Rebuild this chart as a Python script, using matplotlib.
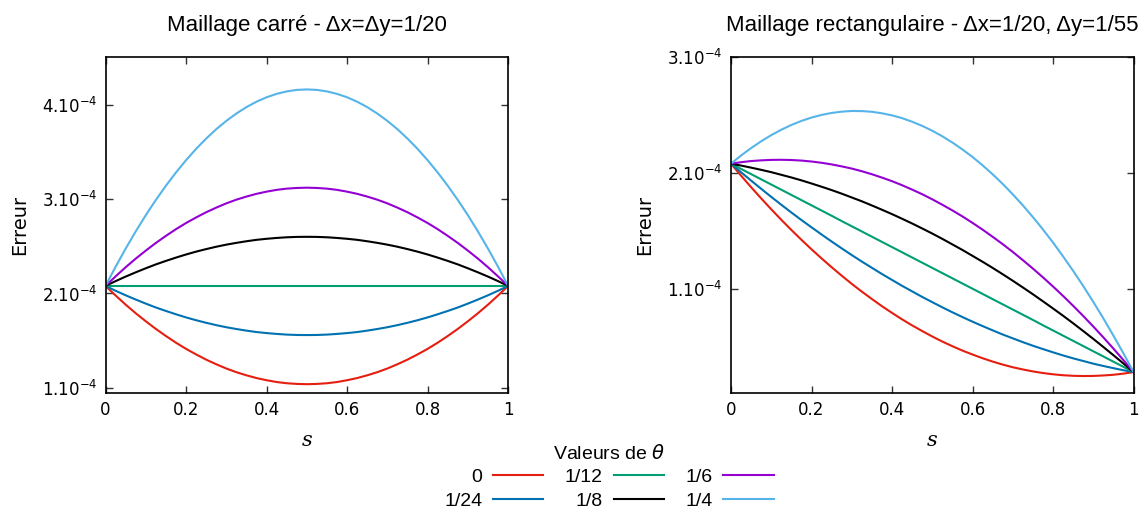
import numpy as np
import matplotlib
matplotlib.use("Agg")
import matplotlib.pyplot as plt

# abscissa s, sampled every 0.025
s = np.linspace(0, 1, 41)

theta_labels = ["0", "1/24", "1/12", "1/8", "1/6", "1/4"]
colors = ["#e51e10", "#0072b2", "#009e73", "black", "#9400d3", "#56b4e9"]

# erreur (x 1e-4), maillage carre
sq_0 = [2.080, 1.979, 1.882, 1.791, 1.706, 1.625, 1.550, 1.479, 1.414, 1.355, 1.300,
        1.251, 1.206, 1.167, 1.134, 1.105, 1.082, 1.063, 1.050, 1.043, 1.040,
        1.043, 1.050, 1.063, 1.082, 1.105, 1.134, 1.167, 1.206, 1.251, 1.300,
        1.355, 1.414, 1.479, 1.550, 1.625, 1.706, 1.791, 1.882, 1.979, 2.080]
sq_1_24 = [2.080, 2.029, 1.981, 1.936, 1.893, 1.852, 1.815, 1.780, 1.747, 1.717, 1.690,
           1.665, 1.643, 1.624, 1.607, 1.592, 1.581, 1.572, 1.565, 1.561, 1.560,
           1.561, 1.565, 1.572, 1.581, 1.592, 1.607, 1.624, 1.643, 1.665, 1.690,
           1.717, 1.747, 1.780, 1.815, 1.852, 1.893, 1.936, 1.981, 2.029, 2.080]
sq_1_12 = [2.080] * 41
sq_1_8 = [2.080, 2.131, 2.179, 2.224, 2.267, 2.308, 2.345, 2.380, 2.413, 2.443, 2.470,
          2.495, 2.517, 2.536, 2.553, 2.568, 2.579, 2.588, 2.595, 2.599, 2.600,
          2.599, 2.595, 2.588, 2.579, 2.568, 2.553, 2.536, 2.517, 2.495, 2.470,
          2.443, 2.413, 2.380, 2.345, 2.308, 2.267, 2.224, 2.179, 2.131, 2.080]
sq_1_6 = [2.080, 2.181, 2.278, 2.369, 2.454, 2.535, 2.610, 2.681, 2.746, 2.805, 2.860,
          2.909, 2.954, 2.993, 3.026, 3.055, 3.078, 3.097, 3.110, 3.117, 3.120,
          3.117, 3.110, 3.097, 3.078, 3.055, 3.026, 2.993, 2.954, 2.909, 2.860,
          2.805, 2.746, 2.681, 2.610, 2.535, 2.454, 2.369, 2.278, 2.181, 2.080]
sq_1_4 = [2.080, 2.283, 2.475, 2.657, 2.829, 2.990, 3.141, 3.281, 3.411, 3.531, 3.640,
          3.739, 3.827, 3.905, 3.973, 4.030, 4.077, 4.113, 4.139, 4.155, 4.160,
          4.155, 4.139, 4.113, 4.077, 4.030, 3.973, 3.905, 3.827, 3.739, 3.640,
          3.531, 3.411, 3.281, 3.141, 2.990, 2.829, 2.657, 2.475, 2.283, 2.080]

# erreur (x 1e-4), maillage rectangulaire
re_0 = [2.080, 1.977, 1.877, 1.780, 1.686, 1.595, 1.507, 1.422, 1.340, 1.261, 1.185,
        1.112, 1.041, 0.974, 0.910, 0.848, 0.790, 0.734, 0.682, 0.633, 0.586,
        0.542, 0.502, 0.464, 0.430, 0.398, 0.369, 0.343, 0.320, 0.301, 0.284,
        0.270, 0.259, 0.251, 0.246, 0.244, 0.245, 0.249, 0.255, 0.265, 0.278]
re_1_24 = [2.080, 2.006, 1.934, 1.863, 1.793, 1.725, 1.658, 1.593, 1.530, 1.468, 1.407,
           1.348, 1.290, 1.234, 1.180, 1.126, 1.075, 1.024, 0.976, 0.928, 0.883,
           0.838, 0.795, 0.754, 0.714, 0.676, 0.639, 0.603, 0.570, 0.537, 0.506,
           0.477, 0.449, 0.422, 0.397, 0.374, 0.351, 0.331, 0.312, 0.294, 0.278]
re_1_12 = [2.080, 2.035, 1.990, 1.945, 1.900, 1.855, 1.810, 1.765, 1.720, 1.675, 1.630,
           1.584, 1.539, 1.494, 1.449, 1.404, 1.359, 1.314, 1.269, 1.224, 1.179,
           1.134, 1.089, 1.044, 0.999, 0.954, 0.909, 0.864, 0.819, 0.774, 0.729,
           0.683, 0.638, 0.593, 0.548, 0.503, 0.458, 0.413, 0.368, 0.323, 0.278]
re_1_8 = [2.080, 2.064, 2.046, 2.027, 2.007, 1.984, 1.961, 1.936, 1.909, 1.881, 1.852,
          1.821, 1.788, 1.755, 1.719, 1.682, 1.644, 1.604, 1.563, 1.520, 1.476,
          1.430, 1.382, 1.334, 1.283, 1.232, 1.179, 1.124, 1.068, 1.010, 0.951,
          0.890, 0.828, 0.765, 0.700, 0.633, 0.565, 0.495, 0.424, 0.352, 0.278]
re_1_6 = [2.080, 2.093, 2.103, 2.109, 2.113, 2.114, 2.112, 2.107, 2.099, 2.088, 2.074,
          2.057, 2.038, 2.015, 1.989, 1.960, 1.929, 1.894, 1.856, 1.816, 1.772,
          1.725, 1.676, 1.624, 1.568, 1.510, 1.448, 1.384, 1.317, 1.246, 1.173,
          1.097, 1.018, 0.936, 0.851, 0.763, 0.672, 0.578, 0.481, 0.381, 0.278]
re_1_4 = [2.080, 2.151, 2.215, 2.274, 2.327, 2.374, 2.415, 2.450, 2.479, 2.502, 2.519,
          2.530, 2.536, 2.535, 2.529, 2.516, 2.498, 2.474, 2.443, 2.407, 2.365,
          2.317, 2.263, 2.203, 2.138, 2.066, 1.988, 1.905, 1.815, 1.720, 1.618,
          1.511, 1.398, 1.278, 1.153, 1.022, 0.885, 0.742, 0.593, 0.439, 0.278]

square = [sq_0, sq_1_24, sq_1_12, sq_1_8, sq_1_6, sq_1_4]
rect = [re_0, re_1_24, re_1_12, re_1_8, re_1_6, re_1_4]

xticks = [0, 0.2, 0.4, 0.6, 0.8, 1]
xticklabels = ["0", "0.2", "0.4", "0.6", "0.8", "1"]
yticks_sq = [1e-4, 2e-4, 3e-4, 4e-4]
yticks_re = [1e-4, 2e-4, 3e-4]

fig = plt.figure(figsize=(11.47, 5.14), dpi=100)
ax1 = fig.add_axes([0.092, 0.236, 0.351, 0.6525])
ax2 = fig.add_axes([0.6373, 0.236, 0.351, 0.6525])


def style(ax, yticks, ylim, title):
    ax.set_xlim(0, 1)
    ax.set_ylim(*ylim)
    ax.set_xticks(xticks)
    ax.set_xticklabels(xticklabels)
    ax.set_yticks(yticks)
    ax.set_yticklabels(["%d.10$^{-4}$" % round(v * 1e4) for v in yticks])
    ax.tick_params(direction="in", length=5, width=1, top=True, right=True,
                   labelsize=12, pad=6, color="#333333")
    for sp in ax.spines.values():
        sp.set_linewidth(1.2)
    ax.set_title(title, fontsize=16, family="Liberation Sans", pad=19)
    ax.set_ylabel("Erreur", fontsize=14)
    ax.yaxis.set_label_coords(-0.19, 0.5)
    ax.set_xlabel("s", fontsize=15, family="DejaVu Serif", style="italic")
    ax.xaxis.set_label_coords(0.5, -0.115)


for ys, c, lab in zip(square, colors, theta_labels):
    ax1.plot(s, np.array(ys) * 1e-4, color=c, lw=1.5, label=lab)
for ys, c in zip(rect, colors):
    ax2.plot(s, np.array(ys) * 1e-4, color=c, lw=1.5)

style(ax1, yticks_sq, (0.95e-4, 4.5e-4), "Maillage carré - Δx=Δy=1/20")
style(ax2, yticks_re, (0.1e-4, 3e-4), "Maillage rectangulaire - Δx=1/20, Δy=1/55")

leg = fig.legend(loc="upper center", bbox_to_anchor=(0.531, 1 - 434 / 514), ncol=3,
                 markerfirst=False, frameon=False, fontsize=14,
                 title="Valeurs de $\\theta$", title_fontsize=14,
                 handlelength=2.6, handletextpad=0.55, columnspacing=1.1,
                 labelspacing=0.3, borderpad=0)
for t in leg.get_texts():
    t.set_family("Liberation Sans")
leg.get_title().set_family("Liberation Sans")

fig.savefig("out.png", dpi=100)
